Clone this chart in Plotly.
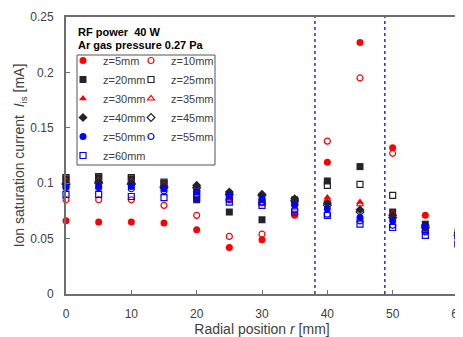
import plotly.graph_objects as go

r_mm = [0, 5, 10, 15, 20, 25, 30, 35, 40, 45, 50, 55, 60]

z5 = [0.066, 0.065, 0.065, 0.064, 0.058, 0.042, 0.049, 0.071, 0.119, 0.227, 0.132, 0.071, 0.046]
z10 = [0.085, 0.085, 0.085, 0.080, 0.071, 0.052, 0.054, 0.072, 0.138, 0.195, 0.127, 0.057, 0.044]
z20 = [0.104, 0.105, 0.104, 0.100, 0.085, 0.074, 0.067, 0.085, 0.102, 0.115, 0.074, 0.063, 0.056]
z25 = [0.105, 0.106, 0.105, 0.101, 0.094, 0.086, 0.083, 0.083, 0.098, 0.099, 0.089, 0.060, 0.053]
z30 = [0.102, 0.103, 0.102, 0.099, 0.093, 0.087, 0.085, 0.086, 0.087, 0.083, 0.073, 0.058, 0.048]
z35 = [0.101, 0.102, 0.101, 0.098, 0.094, 0.086, 0.081, 0.082, 0.085, 0.081, 0.070, 0.057, 0.047]
z40 = [0.100, 0.101, 0.100, 0.097, 0.098, 0.092, 0.090, 0.086, 0.082, 0.076, 0.071, 0.062, 0.055]
z45 = [0.099, 0.100, 0.099, 0.096, 0.096, 0.090, 0.089, 0.084, 0.080, 0.074, 0.069, 0.060, 0.053]
z50 = [0.097, 0.097, 0.097, 0.095, 0.092, 0.089, 0.086, 0.080, 0.077, 0.069, 0.066, 0.061, 0.052]
z55 = [0.096, 0.096, 0.095, 0.093, 0.090, 0.085, 0.083, 0.076, 0.072, 0.066, 0.062, 0.056, 0.050]
z60 = [0.090, 0.090, 0.088, 0.087, 0.087, 0.083, 0.080, 0.074, 0.071, 0.063, 0.060, 0.053, 0.045]

boundary_r = [38.1, 48.8]

RED = "#ff0000"
DARK = "#23232f"
BLUE = "#0000ff"

series = [
    ("z=5mm", z5, "circle", RED, "legend"),
    ("z=10mm", z10, "circle-open", RED, "legend2"),
    ("z=20mm", z20, "square", DARK, "legend"),
    ("z=25mm", z25, "square-open", DARK, "legend2"),
    ("z=30mm", z30, "triangle-up", RED, "legend"),
    ("z=35mm", z35, "triangle-up-open", RED, "legend2"),
    ("z=40mm", z40, "diamond", DARK, "legend"),
    ("z=45mm", z45, "diamond-open", DARK, "legend2"),
    ("z=50mm", z50, "circle", BLUE, "legend"),
    ("z=55mm", z55, "circle-open", BLUE, "legend2"),
    ("z=60mm", z60, "square-open", BLUE, "legend"),
]

fig = go.Figure()
for name, vals, sym, col, leg in series:
    is_open = sym.endswith("open")
    fig.add_trace(go.Scatter(
        x=r_mm, y=vals, mode="markers", name=name, legend=leg,
        cliponaxis=False,
        marker=dict(symbol=sym, size=6 if is_open else 7, color=col,
                    line=dict(color=col, width=1.2 if is_open else 0)),
    ))

for xb in boundary_r:
    fig.add_shape(type="line", xref="x", yref="y", x0=xb, x1=xb, y0=0, y1=0.25,
                  line=dict(color="#2a2ad0", width=1.5, dash="dot"), layer="below")

# the page body has a default 8px margin; layout is expressed in page pixels
OFF = 8
PAGE_L, PAGE_T, PAGE_B, PW = 66, 17, 294, 392
PL, PT, PB = PAGE_L - OFF, PAGE_T - OFF, PAGE_B - OFF
PH = PB - PT
W, H = 463, 337

def px_x(p):
    return (p - PAGE_L) / PW

def px_y(p):
    return (PAGE_B - p) / PH

# legend frame
fig.add_shape(type="rect", xref="paper", yref="paper",
              x0=px_x(77), x1=px_x(215),
              y0=px_y(165), y1=px_y(55),
              line=dict(color="#555555", width=1), fillcolor="white", layer="below")

fig.add_annotation(xref="paper", yref="paper", x=px_x(76), y=px_y(32),
                   xanchor="left", yanchor="middle", showarrow=False,
                   text="<b>RF power  40 W</b>", font=dict(size=11, color="#000000"))
fig.add_annotation(xref="paper", yref="paper", x=px_x(76), y=px_y(45),
                   xanchor="left", yanchor="middle", showarrow=False,
                   text="<b>Ar gas pressure 0.27 Pa</b>", font=dict(size=11, color="#000000"))

axis_common = dict(
    showgrid=False, zeroline=False, showline=True, mirror=True,
    linecolor="#6e6e6e", linewidth=2, ticks="inside", ticklen=4,
    tickcolor="#6e6e6e", tickwidth=1, tickfont=dict(size=12, color="#404040"),
    ticklabelstandoff=8, automargin=False,
)

fig.update_layout(
    width=W, height=H,
    margin=dict(l=PL, r=W - PL - PW, t=PT, b=H - PB, autoexpand=False),
    paper_bgcolor="white", plot_bgcolor="white",
    font=dict(family="Liberation Sans, Arial, sans-serif", color="#404040"),
    xaxis=dict(range=[0, 60], tickmode="linear", tick0=0, dtick=10,
               title=dict(text="Radial position <i>r</i> [mm]", font=dict(size=14, color="#404040"), standoff=4),
               **axis_common),
    yaxis=dict(range=[0, 0.25], tickmode="linear", tick0=0, dtick=0.05,
               title=dict(text="Ion saturation current  <i>I</i><sub>is</sub> [mA]", font=dict(size=14, color="#404040"), standoff=2),
               **axis_common),
    legend=dict(x=px_x(63), y=px_y(46), xanchor="left", yanchor="top",
                bgcolor="rgba(0,0,0,0)", borderwidth=0, font=dict(size=11, color="#404040"),
                itemwidth=30, traceorder="normal"),
    legend2=dict(x=px_x(131), y=px_y(46), xanchor="left", yanchor="top",
                 bgcolor="rgba(0,0,0,0)", borderwidth=0, font=dict(size=11, color="#404040"),
                 itemwidth=30, traceorder="normal"),
    showlegend=True,
)

fig.write_html("out.html")
